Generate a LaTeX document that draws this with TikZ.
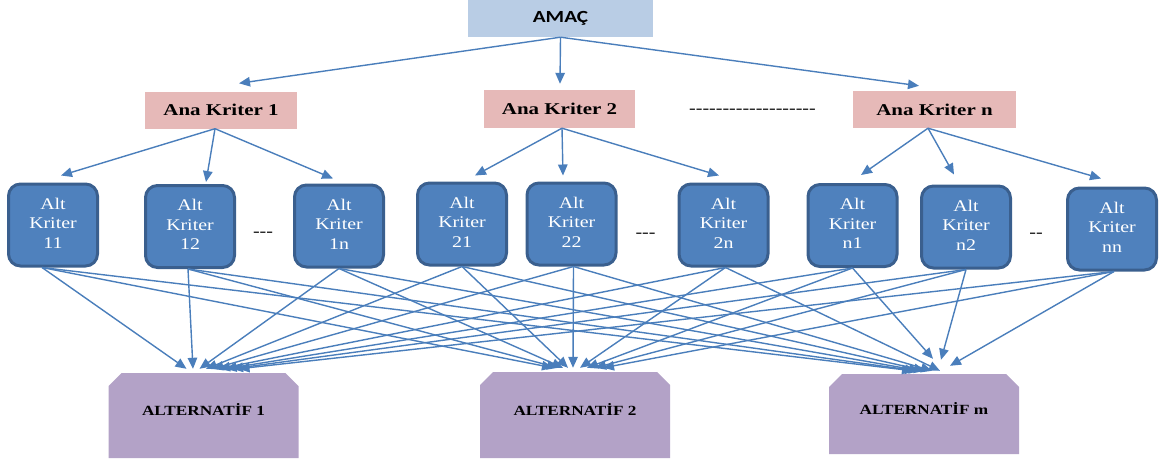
\documentclass[tikz,border=0pt]{standalone}
\usepackage{fontspec}
\usepackage{graphicx}
\setmainfont{Liberation Serif}
\newfontfamily\calfont{Carlito}
\usetikzlibrary{arrows.meta}

\definecolor{goalfill}{HTML}{B9CDE5}
\definecolor{mainfill}{HTML}{E6B9B8}
\definecolor{subfill}{HTML}{4F81BD}
\definecolor{subedge}{HTML}{3A5F8E}
\definecolor{altfill}{HTML}{B3A2C7}
\definecolor{linkblue}{HTML}{4A7EBB}

% horizontally widened text
\newcommand\wide[2][1.25]{\scalebox{#1}[1]{#2}}
\newcommand\hy{-\kern0pt}
\newcommand\subcrit[1]{\wide[1.22]{\begin{tabular}{@{}c@{}}Alt\\Kriter\\#1\end{tabular}}}

\tikzset{
  goalbox/.style={fill=goalfill, inner sep=0pt, minimum width=185pt, minimum height=37pt,
    font=\calfont\bfseries\fontsize{17}{20}\selectfont},
  mainbox/.style={fill=mainfill, inner sep=0pt, minimum height=37pt,
    font=\bfseries\fontsize{16.5}{20}\selectfont},
  subbox/.style={fill=subfill, draw=subedge, line width=3pt, rounded corners=12pt,
    inner sep=0pt, minimum width=89pt, minimum height=82pt, text=white,
    font=\fontsize{16.3}{19.5}\selectfont},
  gap/.style={inner sep=0pt, font=\fontsize{16}{19}\selectfont},
  altbox/.style={inner sep=0pt, minimum width=190pt, text height=8pt, text depth=8pt,
    font=\bfseries\fontsize{14}{17}\selectfont,
    path picture={\fill[altfill]
      ([yshift=-13pt]path picture bounding box.north west) --
      ([xshift=13pt]path picture bounding box.north west) --
      ([xshift=-13pt]path picture bounding box.north east) --
      ([yshift=-13pt]path picture bounding box.north east) --
      (path picture bounding box.south east) --
      (path picture bounding box.south west) -- cycle;}},
  arr/.style={draw=linkblue, line width=1.4pt, -{Triangle[length=11pt,width=9.5pt]}}
}

\begin{document}
\begin{tikzpicture}[x=1pt,y=-1pt]
\useasboundingbox (0,0) rectangle (1166,463);

% goal
\node[goalbox] (amac) at (560.5,18.5) {\wide{AMAÇ}};

% main criteria
\node[mainbox, minimum width=152pt] (k1) at (221,110) {\wide[1.27]{Ana Kriter 1}};
\node[mainbox, minimum width=151pt, minimum height=38pt] (k2) at (559.5,109) {\wide[1.27]{Ana Kriter 2}};
\node[mainbox, minimum width=163pt] (kn) at (934.5,109.5) {\wide[1.27]{Ana Kriter n}};
\node[gap, anchor=base] (kdots) at (752.5,113)
  {\wide{\hy\hy\hy\hy\hy\hy\hy\hy\hy\hy\hy\hy\hy\hy\hy\hy\hy\hy\hy}};

% sub-criteria
\node[subbox] (s11) at (53,225)    {\subcrit{11}};
\node[subbox] (s12) at (190,226.5) {\subcrit{12}};
\node[subbox] (s1n) at (339,226)   {\subcrit{1n}};
\node[subbox] (s21) at (462,224)   {\subcrit{21}};
\node[subbox] (s22) at (571.5,224) {\subcrit{22}};
\node[subbox] (s2n) at (723.5,225) {\subcrit{2n}};
\node[subbox] (sn1) at (852.5,225.5) {\subcrit{n1}};
\node[subbox] (sn2) at (966,227)   {\subcrit{n2}};
\node[subbox] (snn) at (1112,229)  {\subcrit{nn}};

\node[gap, anchor=base] (d1) at (263,236)   {\wide{\hy\hy\hy}};
\node[gap, anchor=base] (d2) at (645.5,237) {\wide{\hy\hy\hy}};
\node[gap, anchor=base] (d3) at (1036,237)  {\wide{\hy\hy}};

% alternatives
\node[altbox, minimum height=85pt] (alt1) at (203.5,415.5) {\wide[1.23]{ALTERNATİF 1}};
\node[altbox, minimum height=86pt] (alt2) at (575,415)     {\wide[1.23]{ALTERNATİF 2}};
\node[altbox, minimum height=80pt] (altm) at (924,414)     {\wide[1.23]{ALTERNATİF m}};

% goal -> main criteria
\draw[arr] (amac.south) -- ([xshift=18pt,yshift=8pt]k1.north);
\draw[arr] (amac.south) -- ([xshift=0.5pt,yshift=6pt]k2.north);
\draw[arr] (amac.south) -- ([xshift=-15.5pt,yshift=5pt]kn.north);

% main criteria -> sub-criteria
\draw[arr] ([xshift=-6pt]k1.south) -- ([xshift=8pt,yshift=7pt]s11.north);
\draw[arr] ([xshift=-6pt]k1.south) -- ([xshift=16pt,yshift=2pt]s12.north);
\draw[arr] ([xshift=-6pt]k1.south) -- ([xshift=-6pt,yshift=5pt]s1n.north);
\draw[arr] ([xshift=2.5pt]k2.south) -- ([xshift=13pt,yshift=6pt]s21.north);
\draw[arr] ([xshift=2.5pt]k2.south) -- ([xshift=-8.5pt,yshift=6pt]s22.north);
\draw[arr] ([xshift=2.5pt]k2.south) -- ([xshift=-4.5pt,yshift=7pt]s2n.north);
\draw[arr] ([xshift=-6.5pt]kn.south) -- ([xshift=8.5pt,yshift=8pt]sn1.north);
\draw[arr] ([xshift=-6.5pt]kn.south) -- ([xshift=-12pt,yshift=10pt]sn2.north);
\draw[arr] ([xshift=-6.5pt]kn.south) -- ([xshift=-11pt,yshift=8pt]snn.north);

% sub-criteria -> alternatives
\foreach \s/\o/\a/\b/\c/\h in {
    s11/-11/-17/-22/-11/3,
    s12/-2/-10.5/-17/-8/3,
    s1n/0/-4/-12/-4/3,
    s21/0/2.5/-7/1/3,
    s22/2/9/-2/8/3,
    s2n/2/15.5/5/16/3,
    sn1/0/22/12/9/15,
    sn2/0/28.5/20/17/14,
    snn/2/35/28/26/8} {
  \draw[arr] ([xshift=\o pt]\s.south) -- ([xshift=\a pt,yshift=4pt]alt1.north);
  \draw[arr] ([xshift=\o pt]\s.south) -- ([xshift=\b pt,yshift=4pt]alt2.north);
  \draw[arr] ([xshift=\o pt]\s.south) -- ([xshift=\c pt,yshift=\h pt]altm.north);
}
\end{tikzpicture}
\end{document}
